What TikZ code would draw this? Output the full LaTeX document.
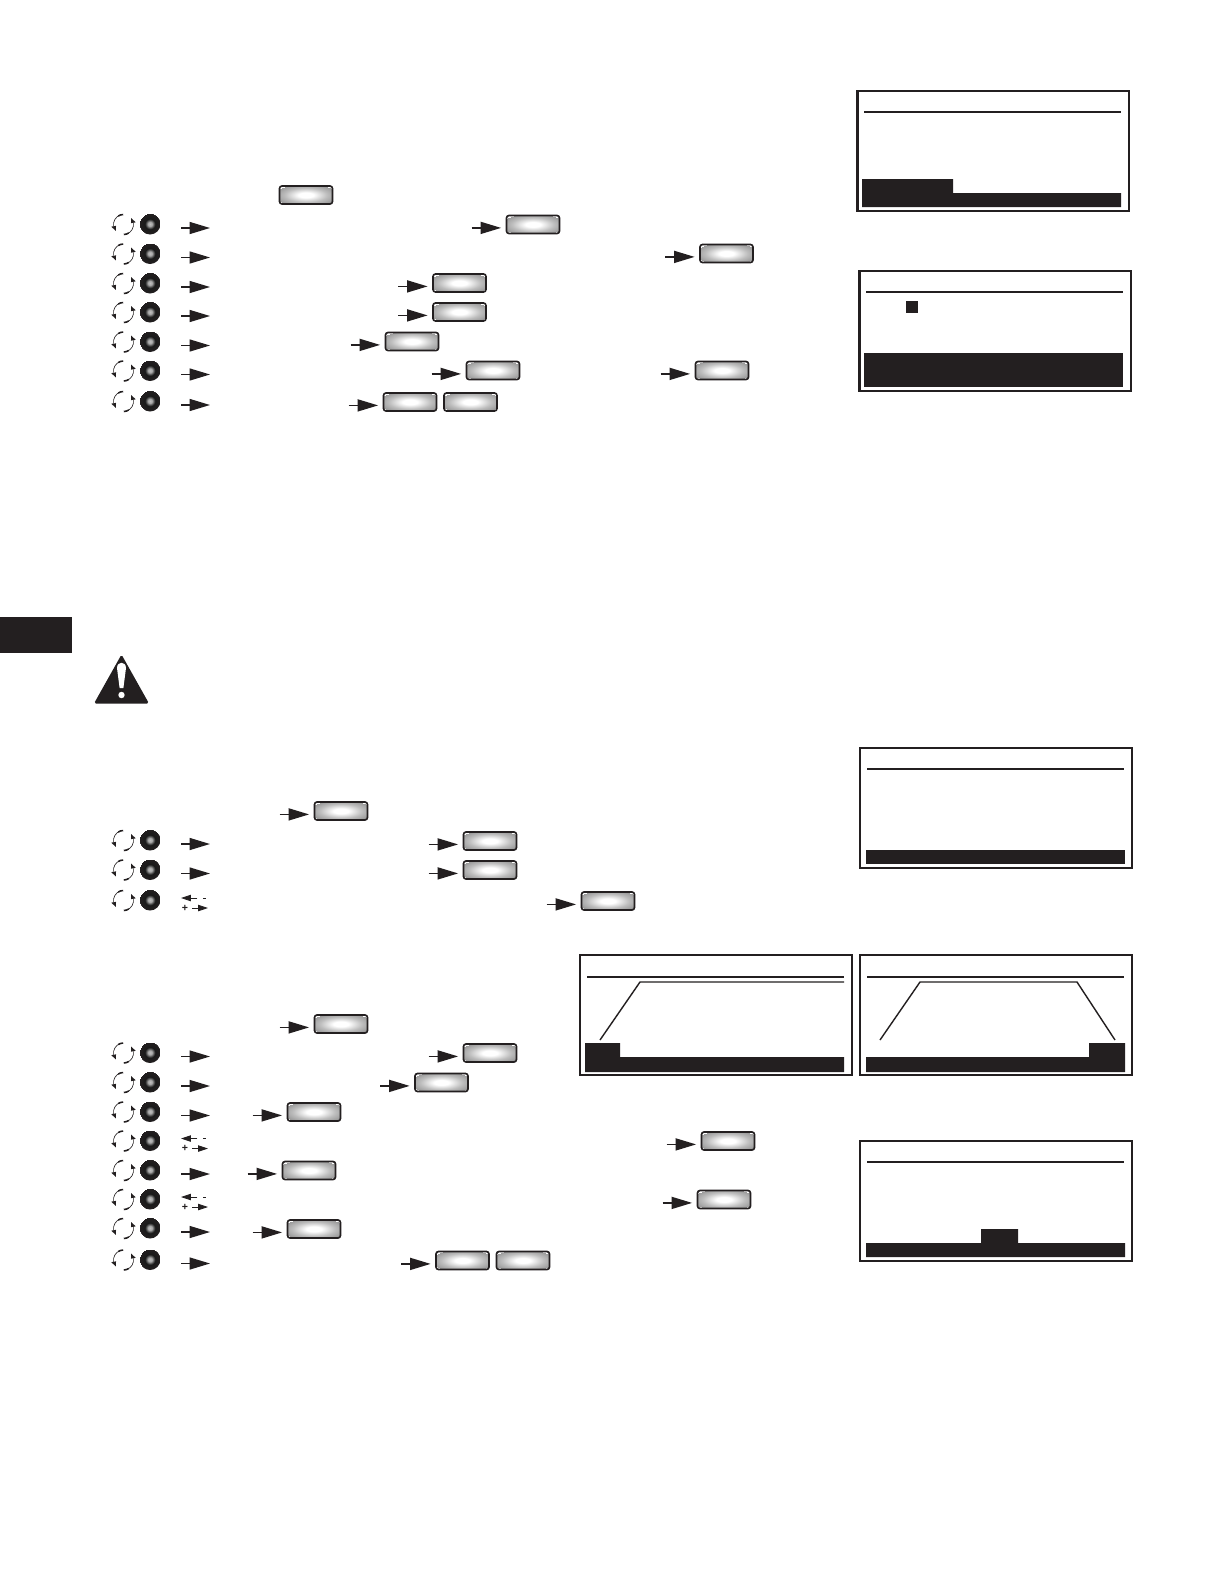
\documentclass[tikz,border=0pt]{standalone}
\usepackage{fontspec}
\setmainfont{Liberation Sans}
\usetikzlibrary{arrows.meta}
\definecolor{ink}{HTML}{231F20}
\pgfdeclareradialshading{btnshade}{\pgfpointorigin}{color(0bp)=(white);color(7bp)=(white);color(20bp)=(black!26);color(30bp)=(black!40)}
\pgfdeclareradialshading{dialshade}{\pgfpointorigin}{color(0bp)=(black!25);color(5bp)=(black!35);color(12bp)=(black!90);color(25bp)=(ink)}
\tikzset{
  btn/.style={draw=ink,line width=2.4pt,rounded corners=3.6pt,minimum width=2.65cm,minimum height=0.9cm,inner sep=0,outer sep=0,shading=btnshade},
  dial/.style={circle,minimum size=1.05cm,inner sep=0,outer sep=0,shading=dialshade},
  arw/.style={draw=ink,line width=2.1pt,-{Triangle[length=29pt,width=17pt,fill=ink]}},
  arwsmall/.style={draw=ink,line width=1.2pt,-{Triangle[length=14pt,width=9pt,fill=ink]}},
  ringline/.style={draw=ink,line width=0.9pt},
  ringcap/.style={draw=ink,line width=2.2pt},
  screen/.style={draw=ink,line width=3.1pt,fill=white},
  rule/.style={draw=ink,line width=2.2pt},
  solid fill/.style={fill=ink,draw=none},
  trace/.style={draw=ink,line width=2pt}
}
% \dialrow{name}{y}: knob, turning ring, arrow
\newcommand{\dialrow}[2]{%
  \node[dial] (#1k) at (150,#2) {};
  \coordinate (#1r) at (123.5,#2+0.5);
  \draw[ringline] ([shift={(110:0.5cm)}]#1r) arc[start angle=110,end angle=190,radius=0.5cm];
  \draw[ringline] ([shift={(-70:0.5cm)}]#1r) arc[start angle=-70,end angle=10,radius=0.5cm];
  \draw[ringcap] ([shift={(92:0.5cm)}]#1r) arc[start angle=92,end angle=122,radius=0.5cm];
  \draw[ringcap] ([shift={(-88:0.5cm)}]#1r) arc[start angle=-88,end angle=-58,radius=0.5cm];
  \fill[ink] ([shift={(190:0.38cm)}]#1r) -- ([shift={(190:0.62cm)}]#1r) -- ([shift={(220:0.5cm)}]#1r) -- cycle;
  \fill[ink] ([shift={(10:0.38cm)}]#1r) -- ([shift={(10:0.62cm)}]#1r) -- ([shift={(40:0.5cm)}]#1r) -- cycle;
  \coordinate (#1a) at (181,#2+4);
  \coordinate (#1b) at (210,#2+4);
}
\newcommand{\plainarrow}[1]{\draw[arw] (#1a) -- (#1b);}
% \pmarrows{name}: the -/+ double arrow
\newcommand{\pmarrows}[1]{%
  \coordinate (#1l) at ([yshift=0.3cm]#1a);
  \coordinate (#1m) at ([yshift=0.3cm,xshift=0.82cm]#1a);
  \draw[arwsmall] (#1m) -- (#1l);
  \draw[draw=ink,line width=1.2pt] ([xshift=1.1cm]#1l) -- ([xshift=1.27cm]#1l);
  \node[text=ink,font=\bfseries\fontsize{15pt}{15pt}\selectfont,inner sep=0] (#1plus) at ([xshift=0.2cm,yshift=-0.5cm]#1l) {+};
  \coordinate (#1s) at ([xshift=0.35cm]#1plus);
  \coordinate (#1e) at ([xshift=1.15cm]#1plus);
  \draw[arwsmall] (#1s) -- (#1e);
}
% \btnarrow{name}{x}{y}: button with lead-in arrow
\newcommand{\btnarrow}[3]{%
  \node[btn] (#1) at (#2,#3) {};
  \coordinate (#1t) at ([xshift=-1.74cm,yshift=-0.17cm]#1.west);
  \coordinate (#1h) at ([xshift=-0.27cm,yshift=-0.17cm]#1.west);
  \draw[arw] (#1t) -- (#1h);
}
\begin{document}
\begin{tikzpicture}[x=0.05cm,y=-0.05cm]
\useasboundingbox (0,0) rectangle (1224,1584);
\fill[white] (0,0) rectangle (1224,1584);

% page tab
\fill[solid fill] (0,617) rectangle (72,653);

% warning triangle
\fill[ink,rounded corners=2.5pt] (121.5,654.5) -- (149,703.5) -- (94,703.5) -- cycle;
\fill[white] (117,668) .. controls (117,661) and (126,661) .. (126,668) -- (123.4,688) -- (119.6,688) -- cycle;
\fill[white] (121.5,695) circle[radius=0.16cm];

% group 1
\node[btn] (s1b) at (306,195) {};
\dialrow{a1}{224}\plainarrow{a1}\btnarrow{a1x}{533}{224.5}
\dialrow{a2}{253.5}\plainarrow{a2}\btnarrow{a2x}{726.5}{253.5}
\dialrow{a3}{283}\plainarrow{a3}\btnarrow{a3x}{459.5}{283}
\dialrow{a4}{312}\plainarrow{a4}\btnarrow{a4x}{459.5}{312}
\dialrow{a5}{341.5}\plainarrow{a5}\btnarrow{a5x}{412}{341.5}
\dialrow{a6}{370.5}\plainarrow{a6}\btnarrow{a6x}{493}{370.5}\btnarrow{a6y}{722}{370.5}
\dialrow{a7}{401}\plainarrow{a7}\btnarrow{a7x}{410}{402}\node[btn] (a7y) at (470.5,402) {};

% group 2
\btnarrow{b0}{341}{811}
\dialrow{b1}{840}\plainarrow{b1}\btnarrow{b1x}{490}{841}
\dialrow{b2}{869.5}\plainarrow{b2}\btnarrow{b2x}{490}{870}
\dialrow{b3}{900}\pmarrows{b3}\btnarrow{b3x}{608}{901}

% group 3
\btnarrow{c0}{341}{1024}
\dialrow{c1}{1052.5}\plainarrow{c1}\btnarrow{c1x}{490}{1053}
\dialrow{c2}{1082}\plainarrow{c2}\btnarrow{c2x}{441.5}{1082.5}
\dialrow{c3}{1111.5}\plainarrow{c3}\btnarrow{c3x}{314}{1112}
\dialrow{c4}{1140.5}\pmarrows{c4}\btnarrow{c4x}{728}{1141}
\dialrow{c5}{1170}\plainarrow{c5}\btnarrow{c5x}{309}{1170.5}
\dialrow{c6}{1199}\pmarrows{c6}\btnarrow{c6x}{724}{1199.5}
\dialrow{c7}{1228}\plainarrow{c7}\btnarrow{c7x}{314}{1229}
\dialrow{c8}{1259.5}\plainarrow{c8}\btnarrow{c8x}{462.5}{1260.5}\node[btn] (c8y) at (523,1260.5) {};

% screen 1
\draw[screen] (857.5,91) rectangle (1129,211);
\draw[rule] (864,112) -- (1121,112);
\fill[solid fill] (862,207) -- (862,179) -- (953,179) -- (953,193) -- (1121,193) -- (1121,207) -- cycle;

% screen 2
\draw[screen] (859.5,271) rectangle (1131,391);
\draw[rule] (866,292) -- (1123,292);
\fill[solid fill] (906,301) rectangle (918,313);
\fill[solid fill] (864,353) rectangle (1123,387);

% screen 3
\draw[screen] (860,748) rectangle (1132,868);
\draw[rule] (867,769) -- (1124,769);
\fill[solid fill] (866,850) rectangle (1125,864);

% screen 4
\draw[screen] (580,955) rectangle (852,1075);
\draw[rule] (587,977) -- (844,977);
\draw[trace] (600,1040) -- (640,982) -- (844,982);
\fill[solid fill] (585,1072) -- (585,1043) -- (620,1043) -- (620,1057) -- (844,1057) -- (844,1072) -- cycle;

% screen 5
\draw[screen] (860,955) rectangle (1132,1075);
\draw[rule] (867,977) -- (1124,977);
\draw[trace] (880,1040) -- (920,982) -- (1077,982) -- (1115,1040);
\fill[solid fill] (866,1072) -- (866,1057) -- (1089,1057) -- (1089,1043) -- (1125,1043) -- (1125,1072) -- cycle;

% screen 6
\draw[screen] (860,1141) rectangle (1132,1261);
\draw[rule] (867,1162) -- (1124,1162);
\fill[solid fill] (866,1257) -- (866,1243) -- (981,1243) -- (981,1229) -- (1018,1229) -- (1018,1243) -- (1125,1243) -- (1125,1257) -- cycle;
\end{tikzpicture}
\end{document}
